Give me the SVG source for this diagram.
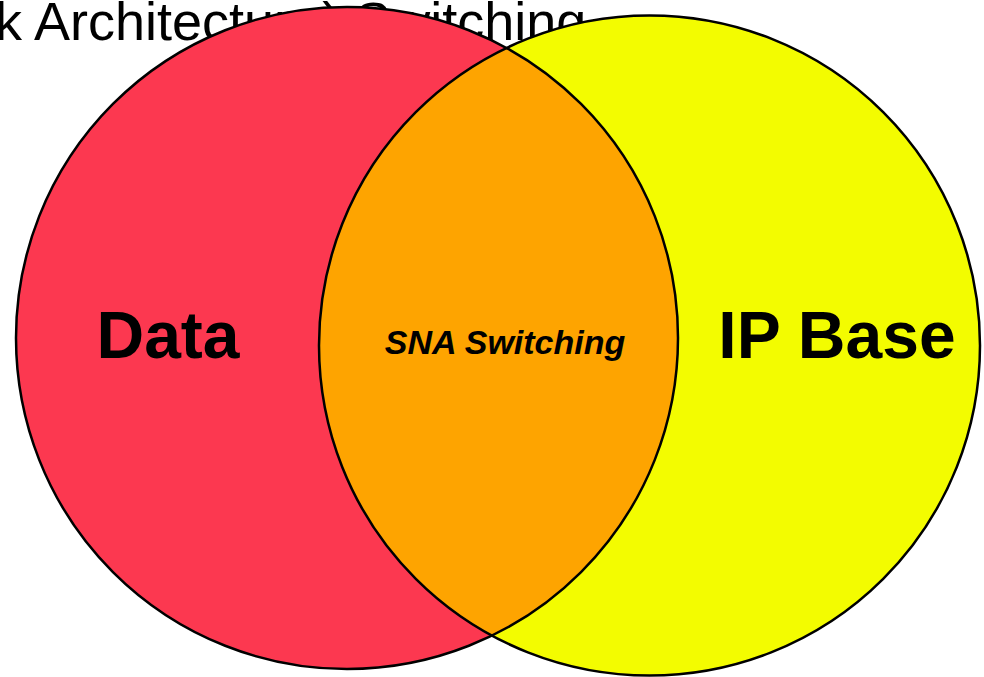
<svg xmlns="http://www.w3.org/2000/svg" width="984" height="677" viewBox="0 0 984 677">
  <style>
    .title { font-family: "Liberation Sans", Arial, sans-serif; font-size: 54px; fill: #000; }
    .big { font-family: "Liberation Sans", Arial, sans-serif; font-size: 66px; font-weight: bold; fill: #000; text-anchor: middle; }
    .mid { font-family: "Liberation Sans", Arial, sans-serif; font-size: 34px; font-weight: bold; font-style: italic; fill: #000; text-anchor: middle; }
    .edge { fill: none; stroke: #000; stroke-width: 2.5; }
  </style>
  <defs>
    <clipPath id="redClip">
      <ellipse cx="347" cy="338" rx="331" ry="331"/>
    </clipPath>
  </defs>
  <rect width="984" height="677" fill="#ffffff"/>
  <text class="title" x="-5" y="40">k Architecture) Switching</text>
  <g id="data">
    <ellipse cx="347" cy="338" rx="331" ry="331" fill="#FC3850"/>
  </g>
  <g id="ip-base">
    <ellipse cx="649.5" cy="345.5" rx="330.5" ry="330" fill="#F3FC00"/>
  </g>
  <g id="sna-switching">
    <ellipse cx="649.5" cy="345.5" rx="330.5" ry="330" fill="#FEA400" clip-path="url(#redClip)"/>
  </g>
  <g id="edges">
    <ellipse class="edge" cx="347" cy="338" rx="331" ry="331"/>
    <ellipse class="edge" cx="649.5" cy="345.5" rx="330.5" ry="330"/>
  </g>
  <text class="big" x="168" y="358">Data</text>
  <text class="mid" x="505" y="354">SNA Switching</text>
  <text class="big" x="837" y="358">IP Base</text>
</svg>
